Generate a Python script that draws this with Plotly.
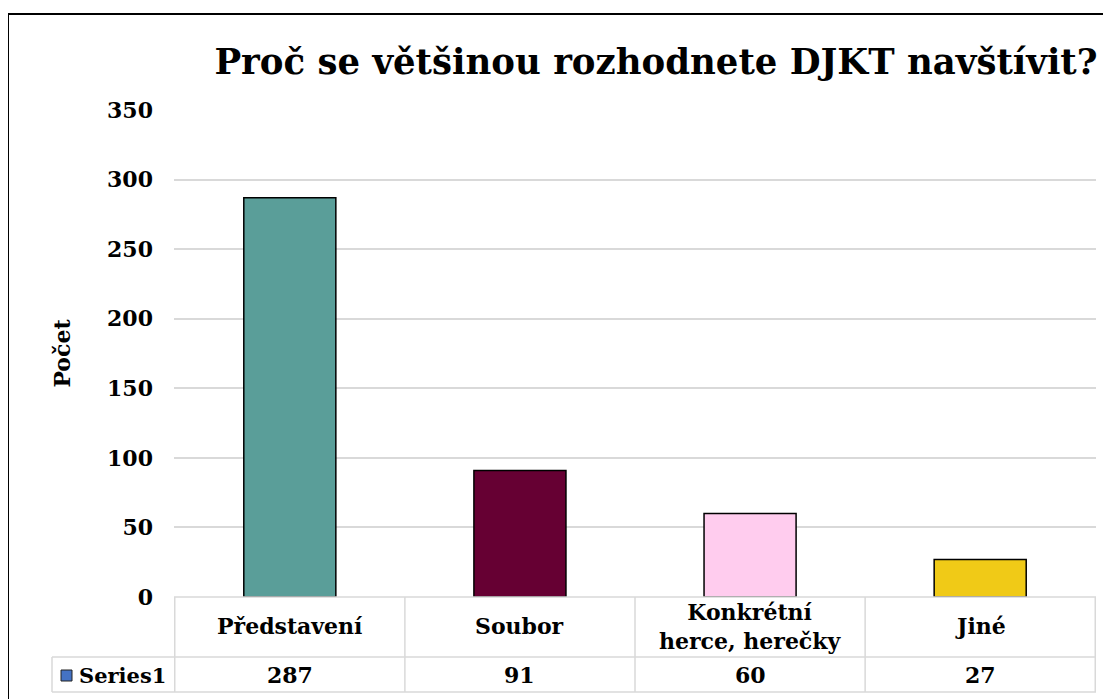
import plotly.graph_objects as go

categories = ["Představení", "Soubor", "Konkrétní<br>herce, herečky", "Jiné"]
values = [287, 91, 60, 27]
bar_colors = ["#5A9E99", "#660033", "#FFCCEE", "#F0CA17"]
series_name = "Series1"
y_ticks = [0, 50, 100, 150, 200, 250, 300, 350]

W, H = 1111, 699
OFF = 8  # page body margin shifts the figure by this much
FONT = "DejaVu Serif"


def px(x):
    return (x - OFF) / W


def py(y):
    return 1 - (y - OFF) / H


fig = go.Figure()
fig.add_trace(
    go.Bar(
        x=categories,
        y=values,
        marker=dict(color=bar_colors, line=dict(color="black", width=1.5)),
        width=0.4,
        showlegend=False,
    )
)

# data table under the plot
table_top, table_mid, table_bot = 597, 657, 692
grid = "#D9D9D9"
shapes = []
shapes.append(dict(type="line", xref="paper", yref="paper", x0=px(174), x1=px(1096), y0=py(table_top), y1=py(table_top), line=dict(color=grid, width=1.5)))
shapes.append(dict(type="line", xref="paper", yref="paper", x0=px(52), x1=px(1096), y0=py(table_mid), y1=py(table_mid), line=dict(color=grid, width=1.5)))
shapes.append(dict(type="line", xref="paper", yref="paper", x0=px(52), x1=px(1096), y0=py(table_bot), y1=py(table_bot), line=dict(color=grid, width=1.5)))
shapes.append(dict(type="line", xref="paper", yref="paper", x0=px(52), x1=px(52), y0=py(table_mid), y1=py(table_bot), line=dict(color=grid, width=1.5)))
for i in range(len(categories) + 1):
    shapes.append(dict(type="line", xref="x", yref="paper", x0=i - 0.5, x1=i - 0.5, y0=py(table_top), y1=py(table_bot), line=dict(color=grid, width=1.5)))
# legend key
shapes.append(dict(type="rect", xref="paper", yref="paper", x0=px(61), x1=px(72), y0=py(681), y1=py(670), fillcolor="#4472C4", line=dict(color="#222222", width=1)))
# outer frame
shapes.append(dict(type="rect", xref="paper", yref="paper", x0=px(8), x1=px(1130), y0=py(14), y1=py(720), line=dict(color="black", width=2), fillcolor="rgba(0,0,0,0)"))

cell_font = dict(family=FONT, size=22, color="black", weight="bold")
annotations = []
for cat, val in zip(categories, values):
    annotations.append(dict(x=cat, xref="x", y=py(626), yref="paper", yanchor="middle", text=cat, showarrow=False, font=cell_font))
    annotations.append(dict(x=cat, xref="x", y=py(675), yref="paper", yanchor="middle", text=str(val), showarrow=False, font=cell_font))
annotations.append(dict(x=px(77), xref="paper", xanchor="left", y=py(675), yref="paper", yanchor="middle", text=series_name, showarrow=False, font=dict(cell_font, size=21)))

fig.update_layout(
    width=W,
    height=H,
    margin=dict(l=0, r=0, t=0, b=0, autoexpand=False),
    plot_bgcolor="white",
    paper_bgcolor="white",
    font=dict(family=FONT, color="black"),
    title=dict(
        text="Proč se většinou rozhodnete DJKT navštívit?",
        x=px(656),
        xanchor="center",
        y=py(62),
        yanchor="middle",
        font=dict(family=FONT, size=35.5, color="black", weight="bold"),
    ),
    xaxis=dict(domain=[px(174), px(1096)], showticklabels=False, showgrid=False, showline=False, zeroline=False, automargin=False),
    yaxis=dict(
        domain=[py(597), py(110)],
        range=[0, 350],
        tickvals=y_ticks,
        showgrid=True,
        gridcolor=grid,
        gridwidth=1.5,
        zeroline=False,
        showline=False,
        ticks="",
        automargin=False,
        ticklabelstandoff=20,
        tickfont=dict(family=FONT, size=22, color="black", weight="bold"),
        title=dict(text="Počet", font=dict(family=FONT, size=22, color="black", weight="bold"), standoff=30),
    ),
    shapes=shapes,
    annotations=annotations,
)

fig.write_html("out.html")
